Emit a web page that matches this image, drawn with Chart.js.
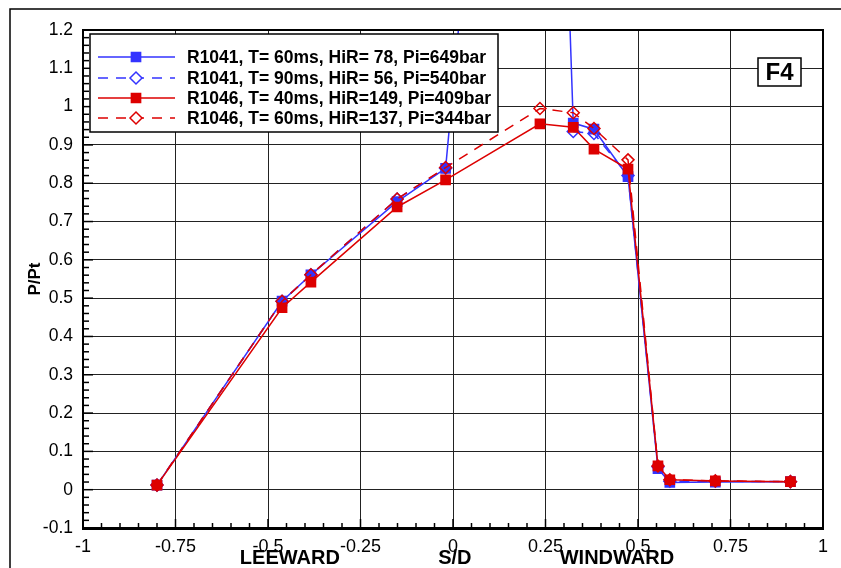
<!DOCTYPE html>
<html>
<head>
<meta charset="utf-8">
<script src="https://cdn.jsdelivr.net/npm/chart.js@4.4.1/dist/chart.umd.min.js"></script>
<style>
  html, body { margin: 0; padding: 0; background: #fff; }
  canvas { display: block; }
</style>
</head>
<body>
<canvas id="chart" width="841" height="568"></canvas>
<script>
// S/D positions of the pressure taps
const sdPositions = [-0.8, -0.462, -0.384, -0.151, -0.02, 0.235, 0.325, 0.381, 0.473, 0.554, 0.586, 0.709, 0.912];

// P/Pt for each run
const r1041t60 = [0.012, 0.492, 0.561, 0.752, 0.839, 3.5, 0.957, 0.941, 0.817, 0.055, 0.019, 0.020, 0.021];
const r1041t90 = [0.012, 0.492, 0.561, 0.759, 0.839, null, 0.935, 0.930, 0.820, 0.060, 0.022, 0.022, 0.021];
const r1046t40 = [0.012, 0.475, 0.542, 0.738, 0.809, 0.955, 0.946, 0.889, 0.837, 0.062, 0.026, 0.023, 0.021];
const r1046t60 = [0.012, 0.492, 0.561, 0.759, 0.841, 0.995, 0.984, 0.943, 0.861, 0.062, 0.026, 0.023, 0.021];

const seriesLabels = [
  "R1041, T= 60ms, HiR= 78, Pi=649bar",
  "R1041, T= 90ms, HiR= 56, Pi=540bar",
  "R1046, T= 40ms, HiR=149, Pi=409bar",
  "R1046, T= 60ms, HiR=137, Pi=344bar"
];

const xTicks = [-1, -0.75, -0.5, -0.25, 0, 0.25, 0.5, 0.75, 1];
const yTicks = [-0.1, 0, 0.1, 0.2, 0.3, 0.4, 0.5, 0.6, 0.7, 0.8, 0.9, 1, 1.1, 1.2];

const BLUE = "#3333ff";
const RED = "#dd0000";

function toPoints(ys) {
  return sdPositions.map((x, i) => ({ x: x, y: ys[i] }));
}

function makeSet(label, ys, color, dashed, order) {
  return {
    label: label,
    data: toPoints(ys),
    borderColor: color,
    borderWidth: 1.5,
    borderDash: dashed ? [10, 8] : [],
    pointStyle: dashed ? "rectRot" : "rect",
    pointRadius: dashed ? 6 : 6.5,
    pointBorderWidth: 1.5,
    pointBorderColor: color,
    pointBackgroundColor: dashed ? "rgba(0,0,0,0)" : color,
    spanGaps: false,
    tension: 0,
    order: order
  };
}

const datasets = [
  makeSet(seriesLabels[0], r1041t60, BLUE, false, 3),
  makeSet(seriesLabels[1], r1041t90, BLUE, true, 4),
  makeSet(seriesLabels[2], r1046t40, RED, false, 1),
  makeSet(seriesLabels[3], r1046t60, RED, true, 2)
];

// frame, minor ticks, legend, labels
const decorations = {
  id: "decorations",
  afterDraw(chart) {
    const ctx = chart.ctx;
    const a = chart.chartArea;
    const xs = chart.scales.x;
    const ys = chart.scales.y;
    ctx.save();

    // outer page border (left + top only visible)
    ctx.strokeStyle = "#000";
    ctx.lineWidth = 1.5;
    ctx.beginPath();
    ctx.moveTo(10, 568);
    ctx.lineTo(10, 9);
    ctx.lineTo(841, 9);
    ctx.stroke();

    // top / right plot border
    ctx.lineWidth = 2;
    ctx.beginPath();
    ctx.moveTo(a.left, a.top);
    ctx.lineTo(a.right, a.top);
    ctx.lineTo(a.right, a.bottom);
    ctx.stroke();

    // minor ticks on y axis
    ctx.lineWidth = 1.5;
    for (let i = -5; i <= 60; i++) {
      const py = ys.getPixelForValue(i * 0.02);
      const len = i % 5 === 0 ? 10 : 6;
      ctx.beginPath();
      ctx.moveTo(a.left, py);
      ctx.lineTo(a.left + len, py);
      ctx.stroke();
    }
    // minor ticks on x axis
    for (let i = -20; i <= 20; i++) {
      const px = xs.getPixelForValue(i * 0.05);
      const len = i % 5 === 0 ? 9 : 5;
      ctx.beginPath();
      ctx.moveTo(px, a.bottom);
      ctx.lineTo(px, a.bottom - len);
      ctx.stroke();
    }

    // x axis titles
    ctx.fillStyle = "#000";
    ctx.font = "bold 20px 'Liberation Sans', Arial, sans-serif";
    ctx.textAlign = "center";
    ctx.textBaseline = "middle";
    ctx.fillText("LEEWARD", xs.getPixelForValue(-0.441), 558);
    ctx.fillText("S/D", xs.getPixelForValue(0.005), 558);
    ctx.fillText("WINDWARD", xs.getPixelForValue(0.443), 558);

    // legend box
    ctx.fillStyle = "#fff";
    ctx.fillRect(90, 34, 408, 98);
    ctx.strokeStyle = "#000";
    ctx.lineWidth = 1.5;
    ctx.strokeRect(90, 34, 408, 98);
    const rows = [57, 78, 98, 118];
    datasets.forEach((ds, i) => {
      const y = rows[i];
      ctx.strokeStyle = ds.borderColor;
      ctx.lineWidth = ds.borderWidth;
      ctx.setLineDash(ds.borderDash);
      ctx.beginPath();
      ctx.moveTo(98, y);
      ctx.lineTo(175, y);
      ctx.stroke();
      ctx.setLineDash([]);
      ctx.fillStyle = ds.pointStyle === "rect" ? ds.borderColor : "#fff";
      ctx.strokeStyle = ds.borderColor;
      ctx.lineWidth = ds.pointBorderWidth;
      Chart.helpers.drawPoint(ctx, {
        pointStyle: ds.pointStyle,
        radius: ds.pointRadius,
        rotation: 0,
        borderWidth: ds.pointBorderWidth
      }, 136, y);
      ctx.fillStyle = "#000";
      ctx.font = "bold 17.5px 'Liberation Sans', Arial, sans-serif";
      ctx.textAlign = "left";
      ctx.textBaseline = "middle";
      ctx.fillText(ds.label, 187, y + 1);
    });

    // F4 tag
    ctx.fillStyle = "#fff";
    ctx.fillRect(758, 58, 43, 28);
    ctx.strokeStyle = "#000";
    ctx.lineWidth = 1.5;
    ctx.strokeRect(758, 58, 43, 28);
    ctx.fillStyle = "#000";
    ctx.font = "bold 24px 'Liberation Sans', Arial, sans-serif";
    ctx.textAlign = "center";
    ctx.textBaseline = "middle";
    ctx.fillText("F4", 779.5, 73);

    ctx.restore();
  }
};

const ctx = document.getElementById("chart").getContext("2d");
new Chart(ctx, {
  type: "line",
  data: { datasets: datasets },
  options: {
    responsive: false,
    animation: false,
    layout: { padding: { left: 10, top: 30, right: 18, bottom: 0 } },
    plugins: {
      legend: { display: false },
      tooltip: { enabled: false }
    },
    scales: {
      x: {
        type: "linear",
        min: -1,
        max: 1,
        afterBuildTicks: (s) => { s.ticks = xTicks.map((v) => ({ value: v })); },
        afterFit: (s) => { s.height = 40; },
        ticks: {
          color: "#000",
          padding: 8,
          font: { family: "'Liberation Sans', Arial, sans-serif", size: 18 },
          callback: (v) => String(v)
        },
        grid: { color: "#222", lineWidth: 1, drawTicks: false },
        border: { color: "#000", width: 3 }
      },
      y: {
        type: "linear",
        min: -0.1,
        max: 1.2,
        afterBuildTicks: (s) => { s.ticks = yTicks.map((v) => ({ value: v })); },
        afterFit: (s) => { s.width = 73; },
        title: {
          display: true,
          text: "P/Pt",
          color: "#000",
          padding: { top: 15, bottom: 0 },
          font: { family: "'Liberation Sans', Arial, sans-serif", size: 17, weight: "bold" }
        },
        ticks: {
          color: "#000",
          padding: 10,
          font: { family: "'Liberation Sans', Arial, sans-serif", size: 17.5 },
          callback: (v) => String(v)
        },
        grid: { color: "#222", lineWidth: 1, drawTicks: false },
        border: { color: "#000", width: 2 }
      }
    }
  },
  plugins: [decorations]
});
</script>
</body>
</html>
